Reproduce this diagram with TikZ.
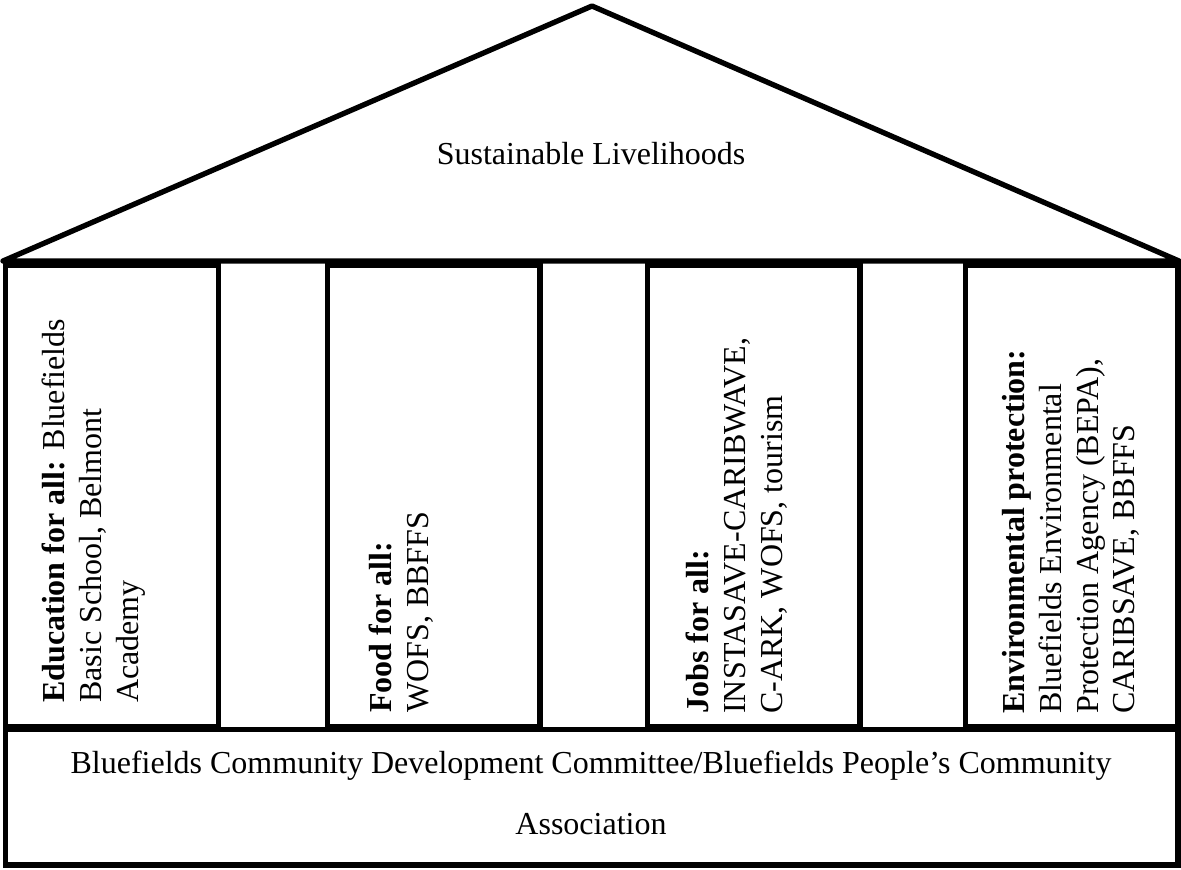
\documentclass[tikz,border=0pt]{standalone}
\usepackage{fontspec}
\setmainfont{Liberation Serif}
\begin{document}
\begin{tikzpicture}[x=0.75pt,y=-0.75pt,
  wall/.style={line width=3.9pt, line join=miter},
  roofline/.style={line width=4pt, line join=round},
  pillartext/.style={rotate=90, anchor=north west, inner sep=0pt, align=left,
    font=\fontsize{24}{27.6}\selectfont},
  plaintext/.style={inner sep=0pt, font=\fontsize{24}{45.75}\selectfont}]
\useasboundingbox (0,0) rectangle (1181,869);
% base
\draw[wall] (5.5,729.5) rectangle (1178,865);
% pillars
\draw[wall] (5.5,265.5) rectangle (218.5,727);
\draw[wall] (327.5,265.5) rectangle (540,727);
\draw[wall] (647.5,265.5) rectangle (860,727);
\draw[wall] (965.5,265.5) rectangle (1178,727);
% roof
\coordinate (roofL) at (3,261);
\coordinate (apex) at (592,6);
\coordinate (roofR) at (1179,261);
\draw[roofline] (roofL) -- (apex) -- (roofR) -- cycle;
% texts
\node[plaintext, anchor=base] (title) at (591,164) {Sustainable Livelihoods};
\node[plaintext, anchor=base, align=center] (basetext) at (591,834)
  {Bluefields Community Development Committee/Bluefields People’s Community\\Association};
\node[pillartext] (p1) at (42,703)
  {\textbf{Education for all:} Bluefields\\Basic School, Belmont\\Academy};
\node[pillartext] (p2) at (369,713)
  {\textbf{Food for all:}\\WOFS, BBFFS};
\node[pillartext] (p3) at (686,714)
  {\textbf{Jobs for all:}\\INSTASAVE-CARIBWAVE,\\C-ARK, WOFS, tourism};
\node[pillartext] (p4) at (1002,714)
  {\textbf{Environmental protection:}\\Bluefields Environmental\\Protection Agency (BEPA),\\CARIBSAVE, BBFFS};
\end{tikzpicture}
\end{document}
